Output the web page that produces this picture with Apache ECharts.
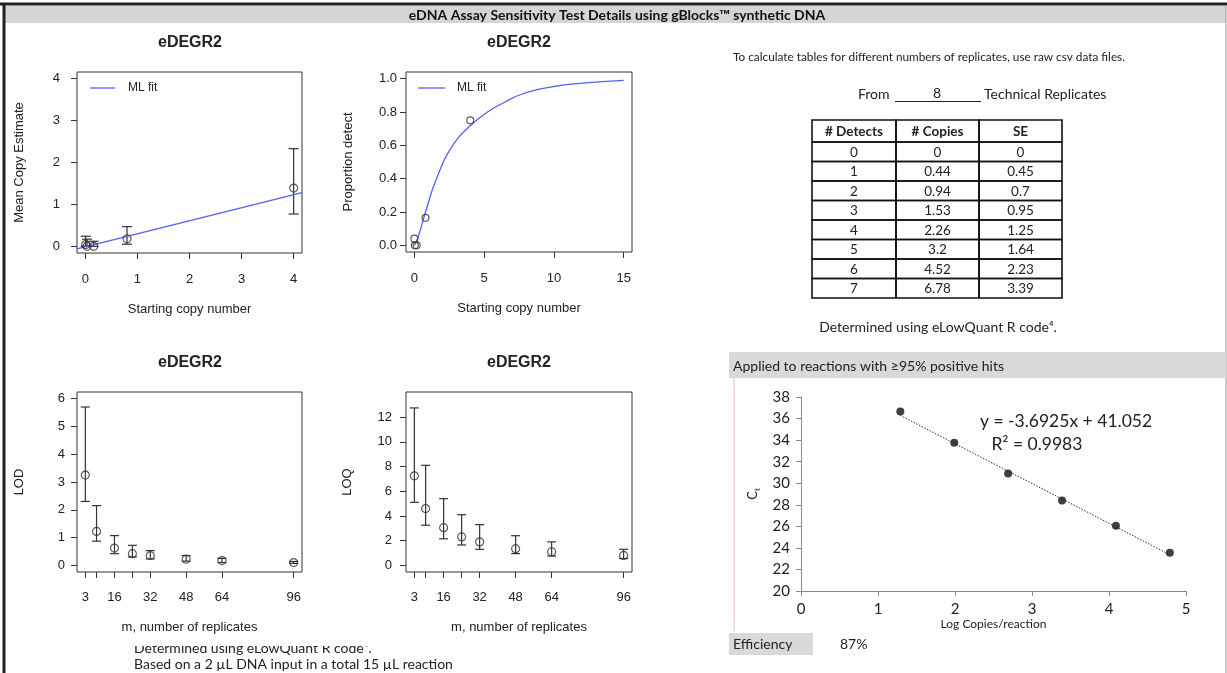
<!DOCTYPE html>
<html>
<head>
<meta charset="utf-8">
<script src="https://cdn.jsdelivr.net/npm/echarts@6/dist/echarts.min.js"></script>
<style>
  html, body { margin: 0; padding: 0; background: #fff; }
  #chart { width: 1227px; height: 673px; }
</style>
</head>
<body>
<div id="chart"></div>
<script>
// ---- Dilution series (starting copies per reaction) ----
const startCopies   = [0.0064, 0.032, 0.16, 0.8, 4];
const meanCopyEst   = [0.04, 0, 0, 0.18, 1.39];
const meanCopyLow   = [0, 0, 0, 0.05, 0.77];
const meanCopyHigh  = [0.24, 0.17, 0.12, 0.47, 2.33];
const propDetect    = [0.04, 0, 0, 0.165, 0.75];

// ---- ML fit curves ----
const copyFitX = [-0.16, 4.16];
const copyFitY = [-0.06, 1.28];
const propFitX = [0, 0.27, 0.8, 1.63, 2.83, 4.04, 5.24, 6.5, 7.64, 10, 12.5, 15];
const propFitY = [0, 0.05, 0.2, 0.41, 0.61, 0.72, 0.8, 0.86, 0.905, 0.953, 0.976, 0.99];

// ---- LOD / LOQ by number of replicates ----
const replicates      = [3, 8, 16, 24, 32, 48, 64, 96];
const replicateLabels = [3, 16, 32, 48, 64, 96];
const lodValues = [3.25, 1.22, 0.62, 0.42, 0.35, 0.22, 0.17, 0.1];
const lodLow    = [2.3, 0.87, 0.42, 0.3, 0.23, 0.15, 0.1, 0.07];
const lodHigh   = [5.7, 2.15, 1.07, 0.72, 0.53, 0.35, 0.25, 0.14];
const loqValues = [7.25, 4.6, 3.05, 2.3, 1.9, 1.35, 1.1, 0.8];
const loqLow    = [5.1, 3.25, 2.15, 1.65, 1.3, 0.95, 0.75, 0.55];
const loqHigh   = [12.75, 8.1, 5.4, 4.1, 3.3, 2.4, 1.9, 1.3];

// ---- Standard curve ----
const logCopies = [1.29, 1.99, 2.69, 3.39, 4.09, 4.79];
const ctValues  = [36.65, 33.75, 30.9, 28.4, 26.05, 23.55];
const trendSlope = -3.6925;
const trendIntercept = 41.052;
const trendR2 = 0.9983;
const efficiency = '87%';

// ---- Copies table ----
const replicateCount = 8;
const tableHeader  = ['# Detects', '# Copies', 'SE'];
const tableDetects = ['0', '1', '2', '3', '4', '5', '6', '7'];
const tableCopies  = ['0', '0.44', '0.94', '1.53', '2.26', '3.2', '4.52', '6.78'];
const tableSE      = ['0', '0.45', '0.7', '0.95', '1.25', '1.64', '2.23', '3.39'];

// ---- Tick labels ----
const copyTicks = [0, 1, 2, 3, 4];
const propXTicks = [0, 5, 10, 15];
const propYTicks = [0, 0.2, 0.4, 0.6, 0.8, 1.0];
const lodTicks = [0, 1, 2, 3, 4, 5, 6];
const loqTicks = [0, 2, 4, 6, 8, 10, 12];

const R_FONT = 'Liberation Sans';
const XL_FONT = 'Lato';
const INK = '#222';
const FIT_BLUE = '#5560ff';

function rAxis(gridIndex, min, max, ticks, labels, margin, name, nameGap, fmt) {
  return {
    gridIndex, type: 'value', min, max,
    axisLine: { show: false, onZero: false },
    splitLine: { show: false },
    axisTick: { show: true, inside: false, length: 6, customValues: ticks,
                lineStyle: { color: '#333', width: 1 } },
    axisLabel: { customValues: labels, margin, fontFamily: R_FONT, fontSize: 13, color: INK,
                 formatter: fmt || (v => String(v)) },
    name, nameLocation: 'middle', nameGap,
    nameTextStyle: { fontFamily: R_FONT, fontSize: 13, color: INK }
  };
}

function errorBars(xs, lo, hi, xi, cap) {
  return {
    type: 'custom', xAxisIndex: xi, yAxisIndex: xi, silent: true, z: 2,
    data: xs.map((x, i) => [x, lo[i], hi[i]]),
    renderItem: (params, api) => {
      const a = api.coord([api.value(0), api.value(1)]);
      const b = api.coord([api.value(0), api.value(2)]);
      const st = { stroke: '#333', lineWidth: 1.2 };
      return { type: 'group', children: [
        { type: 'line', shape: { x1: a[0], y1: a[1], x2: b[0], y2: b[1] }, style: st },
        { type: 'line', shape: { x1: a[0] - cap, y1: a[1], x2: a[0] + cap, y2: a[1] }, style: st },
        { type: 'line', shape: { x1: b[0] - cap, y1: b[1], x2: b[0] + cap, y2: b[1] }, style: st }
      ]};
    }
  };
}

function openPoints(xs, ys, xi, size) {
  return {
    type: 'scatter', xAxisIndex: xi, yAxisIndex: xi, z: 3,
    symbol: 'circle', symbolSize: size,
    itemStyle: { color: 'transparent', borderColor: '#333', borderWidth: 1.2 },
    data: xs.map((x, i) => [x, ys[i]])
  };
}

const rGrid = { show: true, borderColor: '#333', borderWidth: 1, backgroundColor: 'transparent' };

// ---- Fixed text and table drawn with graphic elements ----
const gfx = [];
function txt(x, y, text, font, align, fill) {
  gfx.push({ type: 'text', x, y, style: { text, font, fill: fill || INK,
    textAlign: align || 'left', textVerticalAlign: 'middle' } });
}
// frame and title bar
gfx.push({ type: 'rect', shape: { x: 5, y: 6, width: 1221, height: 17 }, style: { fill: '#d5d5d5' } });
gfx.push({ type: 'line', shape: { x1: 0, y1: 4, x2: 1227, y2: 4 }, style: { stroke: '#222', lineWidth: 3 } });
gfx.push({ type: 'line', shape: { x1: 4, y1: 3, x2: 4, y2: 673 }, style: { stroke: '#222', lineWidth: 3 } });
gfx.push({ type: 'line', shape: { x1: 1226, y1: 5, x2: 1226, y2: 673 }, style: { stroke: '#999', lineWidth: 1 } });
txt(617, 15, 'eDNA Assay Sensitivity Test Details using gBlocks™ synthetic DNA', 'bold 14px ' + XL_FONT, 'center', '#111');

// plot titles
[[190, 43], [519, 43], [190, 363], [519, 363]].forEach(p =>
  txt(p[0], p[1], 'eDEGR2', 'bold 16px ' + R_FONT, 'center'));

// legends
[[90, 115, 128], [418, 445, 457]].forEach(l => {
  gfx.push({ type: 'line', shape: { x1: l[0], y1: 88, x2: l[1], y2: 88 }, style: { stroke: FIT_BLUE, lineWidth: 1.3 } });
  txt(l[2], 88, 'ML fit', '12px ' + R_FONT, 'left');
});

// table block
txt(733, 57, 'To calculate tables for different numbers of replicates, use raw csv data files.', '11.8px ' + XL_FONT, 'left');
txt(858, 94, 'From', '14px ' + XL_FONT, 'left');
txt(937, 93, String(replicateCount), '14px ' + XL_FONT, 'center');
gfx.push({ type: 'line', shape: { x1: 895, y1: 101.5, x2: 981, y2: 101.5 }, style: { stroke: '#222', lineWidth: 1 } });
txt(984, 94, 'Technical Replicates', '14px ' + XL_FONT, 'left');

const colEdges = [812, 896, 979, 1062];
const headTop = 120, headH = 22, rowH = 19.5;
const tableCols = [tableDetects, tableCopies, tableSE];
for (let r = 0; r <= tableDetects.length; r++) {
  const top = r === 0 ? headTop : headTop + headH + (r - 1) * rowH;
  const h = r === 0 ? headH : rowH;
  for (let c = 0; c < 3; c++) {
    gfx.push({ type: 'rect', shape: { x: colEdges[c], y: top, width: colEdges[c + 1] - colEdges[c], height: h },
               style: { fill: 'none', stroke: '#111', lineWidth: 1.6 } });
    const cx = (colEdges[c] + colEdges[c + 1]) / 2;
    if (r === 0) txt(cx, top + h / 2 + 0.5, tableHeader[c], 'bold 13.5px ' + XL_FONT, 'center');
    else txt(cx, top + h / 2 + 0.5, tableCols[c][r - 1], '13.5px ' + XL_FONT, 'center');
  }
}
txt(938, 327, 'Determined using eLowQuant R code⁴.', '14px ' + XL_FONT, 'center');

// standard curve frame texts
gfx.push({ type: 'rect', shape: { x: 729, y: 352, width: 497, height: 26 }, style: { fill: '#d9d9d9' } });
txt(733, 366, 'Applied to reactions with ≥95% positive hits', '14px ' + XL_FONT, 'left');
gfx.push({ type: 'line', shape: { x1: 734, y1: 378, x2: 734, y2: 631 }, style: { stroke: '#f3b9b9', lineWidth: 1 } });
gfx.push({ type: 'rect', shape: { x: 729, y: 633, width: 84, height: 22 }, style: { fill: '#d9d9d9' } });
txt(733, 644, 'Efficiency', '14px ' + XL_FONT, 'left');
txt(840, 644, efficiency, '14px ' + XL_FONT, 'left');
txt(1066, 421, 'y = ' + trendSlope + 'x + ' + trendIntercept, '17.5px ' + XL_FONT, 'center');
txt(1037, 444, 'R² = ' + trendR2, '17.5px ' + XL_FONT, 'center');

// footnotes under the LOD/LOQ plots (first line partly hidden)
txt(134, 648, 'Determined using eLowQuant R code⁴.', '14px ' + XL_FONT, 'left');
gfx.push({ type: 'rect', shape: { x: 125, y: 634, width: 300, height: 12 }, style: { fill: '#fff' } });
txt(134, 664.5, 'Based on a 2 µL DNA input in a total 15 µL reaction', '14px ' + XL_FONT, 'left');

const trendXs = [Math.min(...logCopies), Math.max(...logCopies)];

const option = {
  animation: false,
  backgroundColor: '#fff',
  grid: [
    Object.assign({ left: 77, top: 72, width: 225, height: 181 }, rGrid),
    Object.assign({ left: 406, top: 72, width: 226, height: 180 }, rGrid),
    Object.assign({ left: 77, top: 392, width: 225, height: 180 }, rGrid),
    Object.assign({ left: 406, top: 392, width: 226, height: 180 }, rGrid),
    { left: 801, top: 397, width: 385, height: 194, show: false }
  ],
  xAxis: [
    rAxis(0, -0.16, 4.16, copyTicks, copyTicks, 20, 'Starting copy number', 50),
    rAxis(1, -0.6, 15.6, propXTicks, propXTicks, 20, 'Starting copy number', 50),
    rAxis(2, -0.72, 99.72, replicates, replicateLabels, 19, 'm, number of replicates', 49),
    rAxis(3, -0.72, 99.72, replicates, replicateLabels, 19, 'm, number of replicates', 49),
    {
      gridIndex: 4, type: 'value', min: 0, max: 5, interval: 1,
      axisLine: { show: true, onZero: false, lineStyle: { color: '#8a8a8a', width: 1 } },
      axisTick: { show: true, inside: false, length: 5, lineStyle: { color: '#8a8a8a' } },
      splitLine: { show: false },
      axisLabel: { margin: 11, fontFamily: XL_FONT, fontSize: 15, color: INK },
      name: 'Log Copies/reaction', nameLocation: 'middle', nameGap: 27,
      nameTextStyle: { fontFamily: XL_FONT, fontSize: 12, color: INK }
    }
  ],
  yAxis: [
    rAxis(0, -0.16, 4.16, copyTicks, copyTicks, 17, 'Mean Copy Estimate', 51),
    rAxis(1, -0.04, 1.04, propYTicks, propYTicks, 9, 'Proportion detect', 51, v => v.toFixed(1)),
    rAxis(2, -0.24, 6.24, lodTicks, lodTicks, 12, 'LOD', 51),
    rAxis(3, -0.54, 14.04, loqTicks, loqTicks, 14, 'LOQ', 52),
    {
      gridIndex: 4, type: 'value', min: 20, max: 38, interval: 2,
      axisLine: { show: true, onZero: false, lineStyle: { color: '#8a8a8a', width: 1 } },
      axisTick: { show: true, inside: false, length: 5, lineStyle: { color: '#8a8a8a' } },
      splitLine: { show: false },
      axisLabel: { margin: 11, fontFamily: XL_FONT, fontSize: 15, color: INK },
      name: 'C{s|t}', nameLocation: 'middle', nameGap: 40, nameRotate: 90,
      nameTextStyle: { fontFamily: XL_FONT, fontSize: 13, color: INK, lineHeight: 16,
        rich: { s: { fontFamily: XL_FONT, fontSize: 8, color: INK, lineHeight: 16, verticalAlign: 'bottom' } } }
    }
  ],
  series: [
    errorBars(startCopies, meanCopyLow, meanCopyHigh, 0, 5),
    openPoints(startCopies, meanCopyEst, 0, 8),
    { type: 'line', xAxisIndex: 0, yAxisIndex: 0, symbol: 'none', clip: true, z: 2,
      lineStyle: { color: FIT_BLUE, width: 1.3 },
      data: copyFitX.map((x, i) => [x, copyFitY[i]]) },
    openPoints(startCopies, propDetect, 1, 7),
    { type: 'line', xAxisIndex: 1, yAxisIndex: 1, symbol: 'none', smooth: true, z: 2,
      lineStyle: { color: FIT_BLUE, width: 1.3 },
      data: propFitX.map((x, i) => [x, propFitY[i]]) },
    errorBars(replicates, lodLow, lodHigh, 2, 4.5),
    openPoints(replicates, lodValues, 2, 8),
    errorBars(replicates, loqLow, loqHigh, 3, 4.5),
    openPoints(replicates, loqValues, 3, 8),
    { type: 'line', xAxisIndex: 4, yAxisIndex: 4, symbol: 'none', z: 2,
      lineStyle: { color: '#333', width: 1, type: [1.5, 1.5] },
      data: trendXs.map(x => [x, trendSlope * x + trendIntercept]) },
    { type: 'scatter', xAxisIndex: 4, yAxisIndex: 4, symbol: 'circle', symbolSize: 8, z: 3,
      itemStyle: { color: '#111' },
      data: logCopies.map((x, i) => [x, ctValues[i]]) }
  ],
  graphic: { elements: gfx }
};

const chart = echarts.init(document.getElementById('chart'), null, { renderer: 'canvas' });
chart.setOption(option);
</script>
</body>
</html>
